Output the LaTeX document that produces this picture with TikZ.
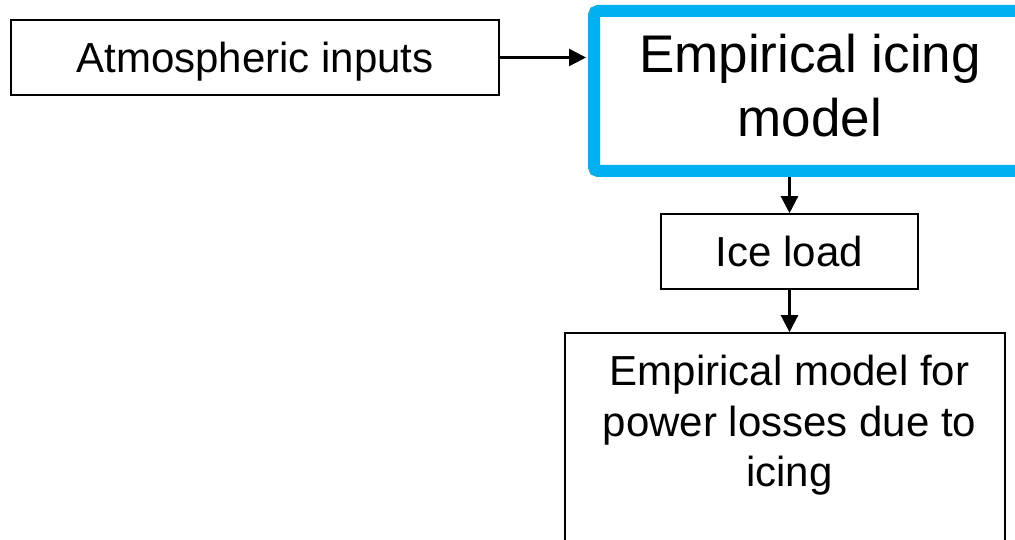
\documentclass[tikz,border=0pt]{standalone}
\usepackage{fontspec}
\setmainfont{Liberation Sans}
\usetikzlibrary{arrows.meta}
\definecolor{iceblue}{HTML}{00B0F0}
\begin{document}
\begin{tikzpicture}[x=1pt,y=-1pt,
  plainbox/.style={draw=black, line width=1.6pt, fill=white, inner sep=0pt},
  bluebox/.style={draw=iceblue, line width=12pt, fill=white, rounded corners=4pt, inner sep=0pt},
  txt/.style={font=\fontsize{42}{50.4}\selectfont, text height=30pt, text depth=0pt},
  bigtxt/.style={font=\fontsize{53}{64}\selectfont, align=center, inner sep=0pt, anchor=north},
  mtxt/.style={font=\fontsize{42}{50.4}\selectfont, align=center, inner sep=0pt, anchor=north},
  arr/.style={line width=2.4pt, -{Triangle[length=17pt,width=17pt]}}]
\useasboundingbox (0,0) rectangle (1015,540);
\clip (0,0) rectangle (1015,540);
\fill[white] (0,0) rectangle (1015,540);
\node[plainbox, txt, minimum width=488pt, minimum height=75pt] (a) at (255,57.5) {Atmospheric inputs};
\node[bluebox, minimum width=432pt, minimum height=160pt] (b) at (810,91) {};
\node[bigtxt] (bt) at (810,34) {Empirical icing\\model};
\node[plainbox, txt, minimum width=257pt, minimum height=75pt] (c) at (789.5,251.5) {Ice load};
\node[plainbox, minimum width=440pt, minimum height=240pt] (d) at (785,453) {};
\node[mtxt] (dt) at (789.5,355) {Empirical model for\\power losses due to\\icing};
\draw[arr, shorten >=2pt] (a.east) -- (a.east -| b.west);
\draw[arr] (c.north |- b.south) -- (c.north);
\draw[arr] (c.south) -- (c.south |- d.north);
\end{tikzpicture}
\end{document}
